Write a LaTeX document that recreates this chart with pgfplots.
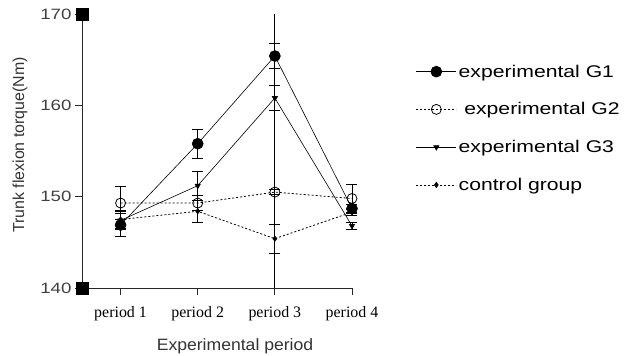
\documentclass[border=0pt]{standalone}
\usepackage{fontspec}
\setmainfont{Liberation Sans}
\newfontfamily\serifx{Liberation Serif}
\newfontfamily\widesans[FakeStretch=1.25]{Liberation Sans}
\newfontfamily\midsans[FakeStretch=1.07]{Liberation Sans}
\usepackage{pgfplots}
\pgfplotsset{compat=1.18}
\begin{document}
\begin{tikzpicture}
\begin{axis}[
  scale only axis, width=270bp, height=274bp,
  at={(0,0)}, anchor=south west,
  xmin=0.5, xmax=4, ymin=140, ymax=170,
  clip=false,
  axis x line=bottom, axis y line=left,
  axis line style={-, line width=0.8pt, black!85},
  xtick={1,2,3,4}, xticklabels={period 1,period 2,period 3,period 4},
  ytick={140,150,160,170},
  tick align=outside, major tick length=7bp,
  tick style={line width=0.8pt, black!85},
  x tick label style={font=\fontsize{16}{18}\serifx, yshift=-8bp},
  y tick label style={font=\fontsize{15}{17}\widesans, text=black!75},
  /pgf/number format/assume math mode=true,
  xlabel={Experimental period},
  ylabel={Trunk flexion torque(Nm)},
  xlabel style={font=\fontsize{16.5}{18}\midsans, text=black!80, yshift=-11bp, xshift=18bp},
  ylabel style={font=\fontsize{16}{18}\selectfont, text=black!80, yshift=6bp, xshift=6bp},
  legend style={at={(1.225,0.83)}, anchor=north west, draw=none, fill=none,
     font=\fontsize{17}{20}\widesans, row sep=20bp,
     legend cell align=left},
  legend image code/.code={\draw[mark repeat=2,mark phase=2,#1] plot coordinates {(0bp,0bp) (20bp,0bp) (40bp,0bp)};},
  error bars/error bar style={solid, line width=0.8pt, black},
  error bars/error mark options={solid, rotate=90, mark size=5.5bp, line width=0.8pt, black},
]
% G1
\addplot[black, line width=0.6pt, mark=*, mark size=5.5bp, mark options={solid, fill=black},
  error bars/.cd, y dir=both, y explicit]
  coordinates {(1,146.9) +- (0,1.3) (2,155.8) +- (0,1.6) (3,165.4) +- (0,1.4) (4,148.7) +- (0,0.5)};
\addlegendentry{experimental G1}
% G2
\addplot[black, line width=0.8pt, dash pattern=on 2bp off 2bp, mark=o, mark size=5bp,
  mark options={solid, fill=white, line width=0.8pt},
  error bars/.cd, y dir=both, y explicit]
  coordinates {(1,149.3) +- (0,1.8) (2,149.3) +- (0,0.8) (3,150.5) +- (0,0.3) (4,149.8) +- (0,1.5)};
\addlegendentry{\,\,experimental G2}
% G3
\addplot[black, line width=0.6pt, mark=triangle*, mark size=3bp, mark options={solid, fill=black, rotate=180},
  error bars/.cd, y dir=both, y explicit]
  coordinates {(1,147.4) +- (0,1.0) (2,151.2) +- (0,1.6) (3,160.8) +- (0,1.4) (4,146.8) +- (0,0.4)};
\addlegendentry{experimental G3}
% control
\addplot[black, line width=0.8pt, dash pattern=on 2bp off 2bp, mark=diamond*, mark size=2.5bp, mark options={solid, fill=black},
  error bars/.cd, y dir=both, y explicit]
  coordinates {(1,147.5) +- (0,1.0) (2,148.4) +- (0,1.2) (3,145.4) +- (0,1.6) (4,148.3) +- (0,0.3)};
\addlegendentry{control group}
% long error bar at period 3
\addplot[draw=none, mark=none, forget plot,
  error bars/.cd, y dir=both, y explicit, error mark=none]
  coordinates {(3,150.5) += (0,19.5) -= (0,10.5)};
% axis end squares
\addplot[only marks, mark=square*, mark size=6bp, black, forget plot]
  coordinates {(0.5,170) (0.5,140)};
\end{axis}
\pgfresetboundingbox
\useasboundingbox (-82bp,-68bp) rectangle (546bp,288bp);
\end{tikzpicture}
\end{document}
